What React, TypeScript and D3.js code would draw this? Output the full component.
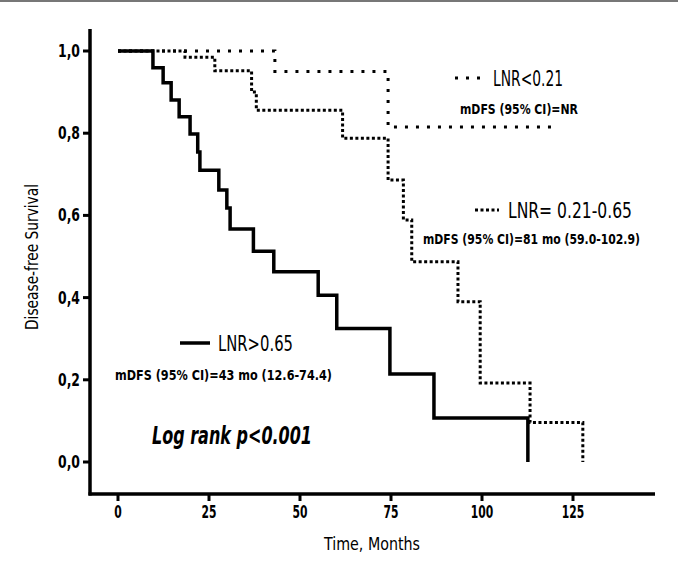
import React from "react";
import * as d3 from "d3";

// ---- Data ----
const timesHigh = [0, 9.6, 12.4, 14.6, 16.8, 19.8, 21.9, 22.5, 27.7, 29.9, 30.8, 37.2, 42.8, 55.0, 60.1, 74.7, 86.8, 112.6];
const survHigh = [1.0, 0.959, 0.923, 0.881, 0.84, 0.798, 0.754, 0.71, 0.662, 0.618, 0.567, 0.513, 0.463, 0.406, 0.325, 0.214, 0.107, 0.0];

const timesMid = [0, 18.4, 26.6, 36.7, 38.0, 61.7, 74.2, 78.4, 80.7, 93.4, 99.5, 113.2, 127.7];
const survMid = [1.0, 0.985, 0.952, 0.9, 0.856, 0.788, 0.686, 0.589, 0.487, 0.39, 0.192, 0.096, 0.0];

const timesLow = [0, 43.1, 74.2, 119];
const survLow = [1.0, 0.95, 0.815, 0.815];

const xTicks = [0, 25, 50, 75, 100, 125];
const xTickLabels = ["0", "25", "50", "75", "100", "125"];
const yTicks = [0, 0.2, 0.4, 0.6, 0.8, 1.0];
const yTickLabels = ["0,0", "0,2", "0,4", "0,6", "0,8", "1,0"];

const FONT = "'DejaVu Sans Condensed', 'Liberation Sans Narrow', 'DejaVu Sans', sans-serif";

export default function App() {
  const W = 678;
  const H = 573;
  const x = d3.scaleLinear().domain([0, 125]).range([118, 573]);
  const y = d3.scaleLinear().domain([0, 1]).range([462, 51]);
  const axisX0 = 90;
  const axisY0 = 494;
  const axisTop = 29;
  const axisRight = 655;

  const line = d3
    .line<[number, number]>()
    .x((d) => x(d[0]))
    .y((d) => y(d[1]))
    .curve(d3.curveStepAfter);

  const pts = (t: number[], s: number[]) => t.map((v, i) => [v, s[i]] as [number, number]);

  return (
    <svg
      width={W}
      height={H}
      style={{ position: "absolute", left: 0, top: 0, background: "#fff" }}
      fontFamily={FONT}
    >
      <rect x={0} y={0} width={W} height={H} fill="#fff" />
      <line x1={0} x2={W} y1={1} y2={1} stroke="#777" strokeWidth={2} />

      {/* axes */}
      <line x1={axisX0} x2={axisX0} y1={axisTop} y2={axisY0 + 1.5} stroke="#000" strokeWidth={3.5} />
      <line x1={axisX0 - 1.5} x2={axisRight} y1={axisY0} y2={axisY0} stroke="#000" strokeWidth={3.5} />
      {yTicks.map((t, i) => (
        <g key={"y" + i}>
          <line x1={axisX0 - 7} x2={axisX0} y1={y(t)} y2={y(t)} stroke="#000" strokeWidth={3} />
          <text x={80} y={y(t) + 6} textAnchor="end" fontSize={17} fontWeight="bold" textLength={22} lengthAdjust="spacingAndGlyphs">
            {yTickLabels[i]}
          </text>
        </g>
      ))}
      {xTicks.map((t, i) => (
        <g key={"x" + i}>
          <line x1={x(t)} x2={x(t)} y1={axisY0} y2={axisY0 + 7} stroke="#000" strokeWidth={3} />
          <text
            x={x(t)}
            y={518}
            textAnchor="middle"
            fontSize={17}
            fontWeight="bold"
            textLength={xTickLabels[i].length * 7.5}
            lengthAdjust="spacingAndGlyphs"
          >
            {xTickLabels[i]}
          </text>
        </g>
      ))}
      <text x={372} y={550} textAnchor="middle" fontSize={18} textLength={96} lengthAdjust="spacingAndGlyphs">
        Time, Months
      </text>
      <text
        transform="translate(38,257) rotate(-90)"
        textAnchor="middle"
        fontSize={18}
        textLength={146}
        lengthAdjust="spacingAndGlyphs"
      >
        Disease-free Survival
      </text>

      {/* curves */}
      <path d={line(pts(timesLow, survLow)) || ""} fill="none" stroke="#000" strokeWidth={3} strokeDasharray="3 8" />
      <path d={line(pts(timesMid, survMid)) || ""} fill="none" stroke="#000" strokeWidth={3} strokeDasharray="3 2.5" />
      <path d={line(pts(timesHigh, survHigh)) || ""} fill="none" stroke="#000" strokeWidth={3.5} />

      {/* legends */}
      <line x1={455} x2={482} y1={78} y2={78} stroke="#000" strokeWidth={3} strokeDasharray="3 8" />
      <text x={493} y={86} fontSize={21} textLength={70} lengthAdjust="spacingAndGlyphs">
        LNR&lt;0.21
      </text>
      <text x={460} y={114} fontSize={14} fontWeight="bold" textLength={118} lengthAdjust="spacingAndGlyphs">
        mDFS (95% CI)=NR
      </text>

      <line x1={475} x2={499} y1={210} y2={210} stroke="#000" strokeWidth={3} strokeDasharray="3 2.5" />
      <text x={508} y={218} fontSize={21} textLength={124} lengthAdjust="spacingAndGlyphs">
        LNR= 0.21-0.65
      </text>
      <text x={423} y={244} fontSize={14} fontWeight="bold" textLength={217} lengthAdjust="spacingAndGlyphs">
        mDFS (95% CI)=81 mo (59.0-102.9)
      </text>

      <line x1={180} x2={210} y1={343} y2={343} stroke="#000" strokeWidth={3.5} />
      <text x={218} y={351} fontSize={21} textLength={75} lengthAdjust="spacingAndGlyphs">
        LNR&gt;0.65
      </text>
      <text x={115} y={380} fontSize={14} fontWeight="bold" textLength={217} lengthAdjust="spacingAndGlyphs">
        mDFS (95% CI)=43 mo (12.6-74.4)
      </text>

      <text
        x={152}
        y={444}
        fontSize={24}
        fontWeight="bold"
        fontStyle="italic"
        textLength={160}
        lengthAdjust="spacingAndGlyphs"
      >
        Log rank p&lt;0.001
      </text>
    </svg>
  );
}
